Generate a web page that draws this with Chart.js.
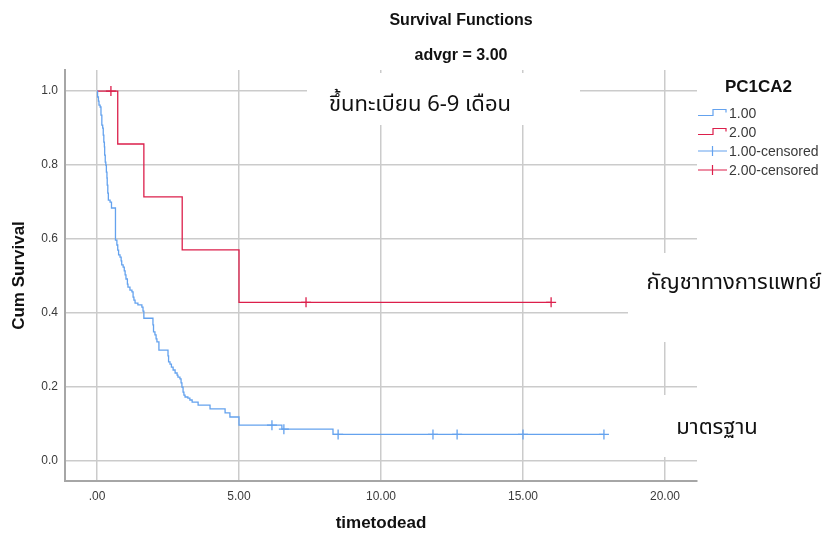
<!DOCTYPE html>
<html>
<head>
<meta charset="utf-8">
<script src="https://cdn.jsdelivr.net/npm/chart.js@4/dist/chart.umd.min.js"></script>
<style>
  html, body { margin: 0; padding: 0; background: #ffffff; }
  #wrap { width: 823px; height: 536px; }
</style>
</head>
<body>
<div id="wrap"><canvas id="c" width="823" height="536"></canvas></div>
<script>
// Axis ticks
const xTicks = [0, 5, 10, 15, 20];
const yTicks = [0, 0.2, 0.4, 0.6, 0.8, 1.0];

// PC1CA2 = 1.00 : Kaplan-Meier steps (time, cumulative survival after the event)
const g1Times = [0, 0.02, 0.05, 0.07, 0.11, 0.14, 0.17, 0.20, 0.22, 0.24, 0.26, 0.27, 0.29, 0.31, 0.33, 0.35, 0.36, 0.38, 0.40, 0.46,
  0.51, 0.65, 0.70, 0.73, 0.76, 0.81, 0.85, 0.87, 0.92, 0.96, 0.99, 1.02, 1.07, 1.09, 1.16, 1.23, 1.27, 1.30, 1.34, 1.44,
  1.58, 1.62, 1.65, 1.97, 1.99, 2.04, 2.08, 2.11, 2.18, 2.50, 2.52, 2.57, 2.62, 2.68, 2.75, 2.82, 2.85, 2.92, 2.96, 2.99,
  3.03, 3.06, 3.10, 3.20, 3.27, 3.35, 3.56, 3.98, 4.51, 4.68, 5.00, 6.51, 8.31, 17.85];
const g1Surv = [1, 0.984, 0.973, 0.962, 0.957, 0.935, 0.908, 0.900, 0.881, 0.862, 0.849, 0.827, 0.808, 0.800, 0.781, 0.765, 0.746, 0.724, 0.705, 0.700,
  0.684, 0.597, 0.584, 0.570, 0.557, 0.551, 0.541, 0.530, 0.524, 0.514, 0.503, 0.492, 0.478, 0.470, 0.462, 0.457, 0.443, 0.435, 0.427, 0.422,
  0.416, 0.405, 0.386, 0.368, 0.349, 0.341, 0.330, 0.322, 0.300, 0.284, 0.268, 0.262, 0.254, 0.246, 0.238, 0.232, 0.227, 0.222, 0.211, 0.200,
  0.186, 0.178, 0.173, 0.170, 0.165, 0.159, 0.151, 0.141, 0.130, 0.119, 0.097, 0.086, 0.072, 0.072];
const g1CensorTimes = [6.16, 6.58, 8.49, 11.83, 12.68, 15.00, 17.85];
const g1CensorSurv = [0.097, 0.086, 0.072, 0.072, 0.072, 0.072, 0.072];

// PC1CA2 = 2.00
const g2Times = [0, 0.73, 1.65, 3.00, 5.00, 15.99];
const g2Surv = [1, 0.857, 0.714, 0.571, 0.429, 0.429];
const g2CensorTimes = [0.49, 7.36, 15.99];
const g2CensorSurv = [1, 0.429, 0.429];

const BLUE = '#64a2ee';
const RED = '#dc1f4b';
const GRID = '#cbcbcb';
const AXIS = '#a6a6a6';
const TEXT = '#3a3a3a';
const SANS = '"Liberation Sans", Arial, sans-serif';
const THAI = '"Noto Sans Thai", "Leelawadee UI", Tahoma, "Noto Sans", "DejaVu Sans", sans-serif';

const pts = (xs, ys) => xs.map((x, i) => ({ x: x, y: ys[i] }));

// Thai captions placed on white boxes over the plot
const captions = [
  { text: 'ขึ้นทะเบียน 6-9 เดือน', box: [307, 73, 273, 52], x: 420, y: 107 },
  { text: 'กัญชาทางการแพทย์', box: [628, 253, 195, 89], x: 734, y: 285 },
  { text: 'มาตรฐาน', box: [632, 395, 191, 62], x: 717, y: 430 }
];

const legendItems = [
  { label: '1.00', color: BLUE, kind: 'step' },
  { label: '2.00', color: RED, kind: 'step' },
  { label: '1.00-censored', color: BLUE, kind: 'cross' },
  { label: '2.00-censored', color: RED, kind: 'cross' }
];

const decorPlugin = {
  id: 'decor',
  beforeDatasetsDraw(chart) {
    const ctx = chart.ctx;
    ctx.save();
    ctx.fillStyle = '#ffffff';
    captions.forEach(c => ctx.fillRect(c.box[0], c.box[1], c.box[2], c.box[3]));
    ctx.restore();
  },
  afterDraw(chart) {
    const ctx = chart.ctx;
    const area = chart.chartArea;
    ctx.save();
    ctx.fillStyle = '#111111';
    ctx.textAlign = 'center';
    ctx.textBaseline = 'middle';
    ctx.font = 'bold 16px ' + SANS;
    ctx.fillText('Survival Functions', 461, 21);
    ctx.fillText('advgr = 3.00', 461, 56);

    ctx.font = 'bold 17px ' + SANS;
    ctx.fillText('timetodead', (area.left + area.right) / 2, 523);
    ctx.save();
    ctx.translate(19, (area.top + area.bottom) / 2);
    ctx.rotate(-Math.PI / 2);
    ctx.fillText('Cum Survival', 0, 0);
    ctx.restore();

    // captions
    ctx.fillStyle = '#111111';
    ctx.font = '22px ' + THAI;
    captions.forEach(c => ctx.fillText(c.text, c.x, c.y));

    // legend
    ctx.textAlign = 'left';
    ctx.font = 'bold 17px ' + SANS;
    ctx.fillText('PC1CA2', 725, 87);
    ctx.font = '14px ' + SANS;
    legendItems.forEach((it, i) => {
      const y = 113 + i * 19;
      ctx.strokeStyle = it.color;
      ctx.lineWidth = 1.2;
      ctx.beginPath();
      if (it.kind === 'step') {
        ctx.moveTo(698, y + 2.5);
        ctx.lineTo(713, y + 2.5);
        ctx.lineTo(713, y - 3.5);
        ctx.lineTo(726, y - 3.5);
        ctx.lineTo(726, y - 0.5);
      } else {
        ctx.moveTo(698, y);
        ctx.lineTo(727, y);
        ctx.moveTo(712.5, y - 5);
        ctx.lineTo(712.5, y + 5);
      }
      ctx.stroke();
      ctx.fillStyle = TEXT;
      ctx.fillText(it.label, 729, y + 1);
    });
    ctx.restore();
  }
};

const stepLine = (label, data, color) => ({
  label: label, data: data, borderColor: color, backgroundColor: color,
  borderWidth: 1.3, stepped: true, pointRadius: 0, fill: false, order: 2
});
const censorSet = (label, data, color) => ({
  label: label, data: data, type: 'scatter', showLine: false,
  pointStyle: 'cross', pointRadius: 5, borderColor: color, borderWidth: 1.3, order: 1
});

new Chart(document.getElementById('c'), {
  type: 'line',
  data: {
    datasets: [
      stepLine('1.00', pts(g1Times, g1Surv), BLUE),
      stepLine('2.00', pts(g2Times, g2Surv), RED),
      censorSet('1.00-censored', pts(g1CensorTimes, g1CensorSurv), BLUE),
      censorSet('2.00-censored', pts(g2CensorTimes, g2CensorSurv), RED)
    ]
  },
  options: {
    responsive: false,
    animation: false,
    devicePixelRatio: 1,
    layout: { padding: { left: 0, top: 70, right: 126, bottom: 0 } },
    plugins: { legend: { display: false }, tooltip: { enabled: false }, title: { display: false } },
    scales: {
      x: {
        type: 'linear', min: -1.127, max: 21.127,
        afterBuildTicks: s => { s.ticks = xTicks.map(v => ({ value: v })); },
        afterFit: s => { s.height = 55; },
        grid: { color: GRID, lineWidth: 1.5, drawTicks: false },
        border: { display: true, color: AXIS, width: 2 },
        ticks: {
          color: TEXT, padding: 8, font: { family: SANS, size: 12 },
          callback: v => (v === 0 ? '.00' : Number(v).toFixed(2))
        }
      },
      y: {
        type: 'linear', min: -0.054, max: 1.057,
        afterBuildTicks: s => { s.ticks = yTicks.map(v => ({ value: v })); },
        afterFit: s => { s.width = 65; },
        grid: { color: GRID, lineWidth: 1.5, drawTicks: false },
        border: { display: true, color: AXIS, width: 2 },
        ticks: {
          color: TEXT, padding: 7, font: { family: SANS, size: 12 },
          callback: v => Number(v).toFixed(1)
        }
      }
    }
  },
  plugins: [decorPlugin]
});
</script>
</body>
</html>
